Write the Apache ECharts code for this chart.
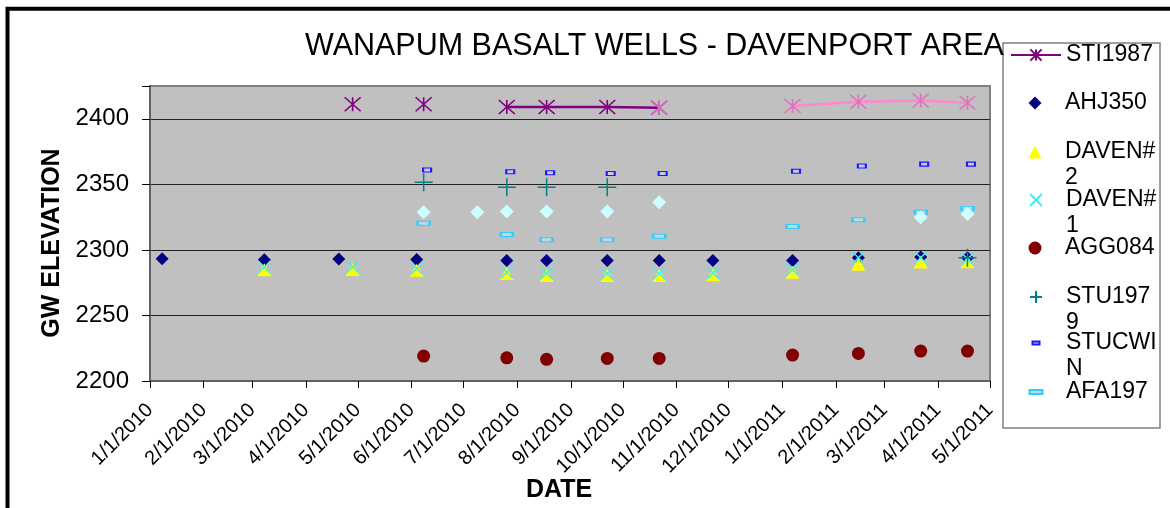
<!DOCTYPE html>
<html>
<head>
<meta charset="utf-8">
<script src="https://cdn.jsdelivr.net/npm/echarts@6/dist/echarts.min.js"></script>
<style>
html,body{margin:0;padding:0;background:#fff;}
#chart{width:1170px;height:508px;}
</style>
</head>
<body>
<div id="chart"></div>
<script>
// ---- data ----
const titleText = 'WANAPUM BASALT WELLS - DAVENPORT AREA';
const yTicks = [2200, 2250, 2300, 2350, 2400];

const sti1987Dates  = ['2010-04-28','2010-06-04','2010-06-08','2010-07-09','2010-07-26','2010-08-18','2010-09-22','2010-10-22'];
const sti1987Values = [2411, null, 2411, null, 2409, 2409, 2409, 2408.5];

const sti1987bDates  = ['2010-10-22','2010-11-22','2011-01-07','2011-02-14','2011-03-22','2011-04-18'];
const sti1987bValues = [2408.5, null, 2409.7, 2413, 2414, 2412.3];

const ahj350Dates  = ['2010-01-08','2010-03-08','2010-04-20','2010-06-04','2010-07-26','2010-08-18','2010-09-22','2010-10-22','2010-11-22','2011-01-07','2011-02-14','2011-03-22','2011-04-18'];
const ahj350Values = [2293.2, 2292.5, 2293, 2292.7, 2292, 2292, 2292, 2292, 2292, 2292, 2294, 2294.5, 2294];

const daven2Dates  = ['2010-03-08','2010-04-28','2010-06-04','2010-07-26','2010-08-18','2010-09-22','2010-10-22','2010-11-22','2011-01-07','2011-02-14','2011-03-22','2011-04-18'];
const daven2Values = [2284.8, 2285, 2284.5, 2282, 2280.5, 2280.5, 2280.5, 2281, 2283, 2289, 2290.7, 2291];

const daven1Dates  = ['2010-03-08','2010-04-28','2010-06-04','2010-07-26','2010-08-18','2010-09-22','2010-10-22','2010-11-22','2011-01-07','2011-02-14','2011-03-22','2011-04-18'];
const daven1Values = [2286.8, 2287, 2285.8, 2283, 2282.3, 2282, 2282, 2282.3, 2284.8, 2294, 2294, 2293];

const agg084Dates  = ['2010-06-08','2010-07-26','2010-08-18','2010-09-22','2010-10-22','2011-01-07','2011-02-14','2011-03-22','2011-04-18'];
const agg084Values = [2219, 2217.7, 2216.5, 2217.2, 2217.2, 2219.8, 2221, 2222.8, 2222.8];

const stu1979Dates  = ['2010-06-08','2010-07-26','2010-08-18','2010-09-22','2011-04-18'];
const stu1979Values = [2351.5, 2347.7, 2347.7, 2347.7, 2294];

const stucwinDates  = ['2010-06-10','2010-07-28','2010-08-20','2010-09-24','2010-10-24','2011-01-09','2011-02-16','2011-03-24','2011-04-20'];
const stucwinValues = [2361, 2359.6, 2358.8, 2358.3, 2358.3, 2360, 2364, 2365.4, 2365.4];

const afa197Dates  = ['2010-06-08','2010-07-26','2010-08-18','2010-09-22','2010-10-22','2011-01-07','2011-02-14','2011-03-22','2011-04-18'];
const afa197Values = [2320.3, 2311.7, 2307.7, 2307.7, 2310.4, 2317.8, 2323, 2328.7, 2331.7];

const paleDates  = ['2010-06-08','2010-07-09','2010-07-26','2010-08-18','2010-09-22','2010-10-22','2011-03-22','2011-04-18'];
const paleValues = [2328.7, 2328.7, 2329.2, 2329.2, 2329.2, 2336.3, 2324.9, 2327.4];

const legendNames = ['STI1987','AHJ350','DAVEN#2','DAVEN#1','AGG084','STU1979','STUCWIN','AFA197'];
const legendLabels = ['STI1987','AHJ350',' \nDAVEN#\n2',' \nDAVEN#\n1','AGG084',' \nSTU197\n9',' \nSTUCWI\nN','AFA197'];

// ---- helpers ----
function zip(d, v){ return d.map((x,i)=>[x, v[i]]); }
const FONT = '"Liberation Sans", Arial, sans-serif';
const SYM_AST = 'path://M0,0L16,14M16,0L0,14M8,0L8,14';
const SYM_X = 'path://M0,0L12,12M12,0L0,12';
const SYM_PLUS = 'path://M9,0L9,18M0,9L18,9';

function fmtDate(v){
  const d = new Date(v);
  return (d.getMonth()+1) + '/' + d.getDate() + '/' + d.getFullYear();
}

const legendCenters = [55, 103, 152, 200, 248, 297, 343, 392];
const legendIconH  = [14, 13, 13, 12, 13, 12, 3, 4];
const legendIconW  = [50, 13, 13, 12, 13, 12, 7, 13];
const legendIcons = [null,
  'path://M6.5,0L13,6.5L6.5,13L0,6.5Z',
  'path://M6.5,0L13,13L0,13Z',
  null, null, null,
  'path://M0,0h7v3h-7z', 'path://M0,0h13v4h-13z'];
const LH = 26;
const ICON_CX = 1035;
const legends = legendNames.map((n,i)=>{
  const lines = legendLabels[i].split('\n').length;
  const h = Math.max(lines*LH, legendIconH[i]);
  const item = legendIcons[i] ? {name:n, icon:legendIcons[i]} : {name:n};
  return {
    data:[item], left: i === 0 ? 1010 : ICON_CX - legendIconW[i]/2, top: legendCenters[i] - h/2, padding:0,
    orient:'vertical', itemWidth:50, itemHeight:legendIconH[i], itemGap:0,
    symbolKeepAspect:true, selectedMode:false,
    formatter: ()=>legendLabels[i],
    textStyle:{fontSize:23, fontFamily:FONT, color:'#000', lineHeight:LH}
  };
});

const chart = echarts.init(document.getElementById('chart'));
chart.setOption({
  animation:false,
  backgroundColor:'#fff',
  title:{text:titleText, left:305, top:31, padding:0,
    textStyle:{fontSize:30.5, fontWeight:'normal', color:'#000', fontFamily:FONT}},
  graphic:[
    {type:'rect', z:-10, shape:{x:7.5, y:8.7, width:1300, height:700}, style:{fill:'none', stroke:'#000', lineWidth:4}},
    {type:'rect', z:0, shape:{x:1003, y:43, width:157, height:385}, style:{fill:'#fff', stroke:'#808080', lineWidth:1.5}},
    {type:'text', x:52, y:243, rotation:Math.PI/2, style:{text:'GW ELEVATION', font:'bold 25px '+FONT, align:'center', verticalAlign:'middle', fill:'#000'}},
    {type:'text', x:559, y:490, style:{text:'DATE', font:'bold 25px '+FONT, align:'center', verticalAlign:'middle', fill:'#000'}}
  ],
  legend: legends,
  grid:{left:150, right:180, top:86, bottom:127, show:true, backgroundColor:'#c0c0c0', borderColor:'#808080', borderWidth:2},
  xAxis:{
    type:'time', min:'2010-01-01', max:'2011-05-01',
    splitNumber:16, minInterval:28*24*3600*1000, maxInterval:31*24*3600*1000,
    axisLine:{show:true, lineStyle:{color:'#606060', width:2}},
    axisTick:{show:true, inside:false, length:7, lineStyle:{color:'#000', width:1}},
    axisLabel:{rotate:45, fontSize:20, fontFamily:FONT, color:'#000', margin:26, formatter:(v)=>fmtDate(v), hideOverlap:false},
    splitLine:{show:false}
  },
  yAxis:{
    type:'value', min:2200, max:2425, interval:50,
    axisLine:{show:true, lineStyle:{color:'#606060', width:2}},
    axisTick:{show:true, inside:false, length:8, lineStyle:{color:'#000', width:1}},
    axisLabel:{fontSize:24, fontFamily:FONT, color:'#000', margin:21,
      formatter:(v)=> yTicks.indexOf(v) >= 0 ? String(v) : ''},
    splitLine:{show:true, lineStyle:{color:['#606060','#222','#222','#222','#222','#808080'], width:1.2}}
  },
  series:[
    {name:'STI1987', type:'line', data:zip(sti1987Dates, sti1987Values), connectNulls:false,
      symbol:SYM_AST, symbolSize:[16,14], showSymbol:true,
      lineStyle:{color:'#800080', width:2.5},
      itemStyle:{color:'#800080', borderColor:'#800080', borderWidth:1.5}, z:2},
    {name:'AHJ350', type:'scatter', data:zip(ahj350Dates, ahj350Values),
      symbol:'diamond', symbolSize:13, itemStyle:{color:'#000080', opacity:1}, z:3},
    {name:'DAVEN#2', type:'scatter', data:zip(daven2Dates, daven2Values),
      symbol:'triangle', symbolSize:[14,13], itemStyle:{color:'#ffff00', opacity:1}, z:4},
    {name:'DAVEN#1', type:'scatter', data:zip(daven1Dates, daven1Values),
      symbol:SYM_X, symbolSize:12, itemStyle:{color:'#40f0f0', borderColor:'#40f0f0', borderWidth:1.5, opacity:1}, z:5},
    {name:'AGG084', type:'scatter', data:zip(agg084Dates, agg084Values),
      symbol:'circle', symbolSize:13, itemStyle:{color:'#800000', opacity:1}, z:6},
    {name:'STU1979', type:'scatter', data:zip(stu1979Dates, stu1979Values),
      symbol:SYM_PLUS, symbolSize:18, itemStyle:{color:'#008080', borderColor:'#008080', borderWidth:1.5, opacity:1}, z:7},
    {name:'STUCWIN', type:'scatter', data:zip(stucwinDates, stucwinValues),
      symbol:'rect', symbolSize:[8,4], itemStyle:{color:'#c8c8e8', borderColor:'#1a1aff', borderWidth:1.5, opacity:1}, z:8},
    {name:'AFA197', type:'scatter', data:zip(afa197Dates, afa197Values),
      symbol:'rect', symbolSize:[12,4], itemStyle:{color:'#c0d8e0', borderColor:'#33ccff', borderWidth:1.5, opacity:1}, z:9},
    {name:'Series 9', type:'scatter', data:zip(paleDates, paleValues),
      symbol:'diamond', symbolSize:14, itemStyle:{color:'#ccffff', opacity:1}, z:10},
    {name:'Series 10', type:'line', data:zip(sti1987bDates, sti1987bValues), connectNulls:false,
      symbol:SYM_AST, symbolSize:[16,14], showSymbol:true,
      lineStyle:{color:'#ff88cc', width:2.5},
      itemStyle:{color:'#f080c8', borderColor:'#e070c0', borderWidth:1.5}, z:11}
  ]
});
</script>
</body>
</html>
